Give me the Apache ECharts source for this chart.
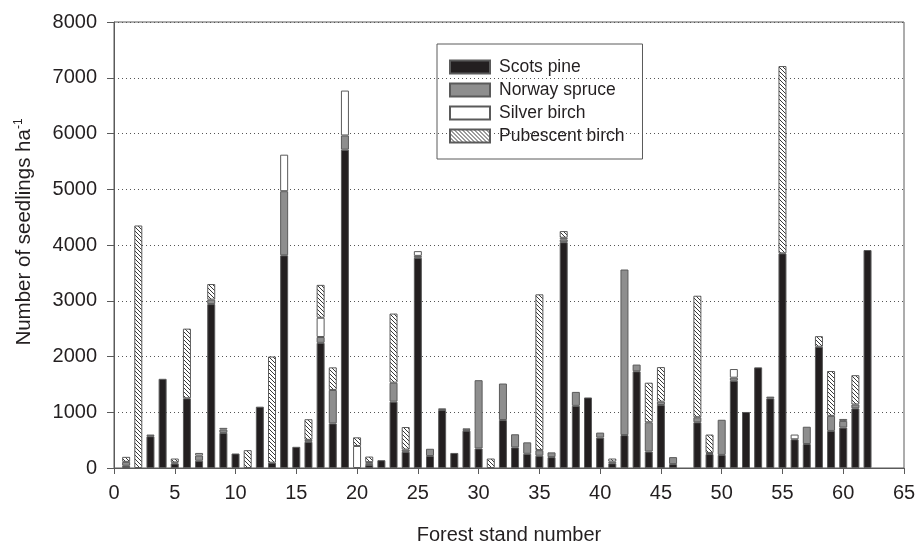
<!DOCTYPE html>
<html>
<head>
<meta charset="utf-8">
<script src="https://cdn.jsdelivr.net/npm/echarts@6/dist/echarts.min.js"></script>
<style>
  html, body { margin: 0; padding: 0; background: #fff; }
  #chart { width: 916px; height: 544px; }
</style>
</head>
<body>
<div id="chart"></div>
<script>
// forest stands 1..62, seedlings per ha, stacked by species
const stands = []
for (let i = 1; i <= 62; i++) stands.push(i)

const scotsPine = [40, 0, 570, 1600, 80, 1250, 130, 2940, 630, 260,
  0, 1100, 95, 3815, 380, 470, 2245, 800, 5710, 0,
  55, 140, 1190, 290, 3770, 215, 1040, 270, 670, 350,
  0, 860, 370, 255, 220, 195, 4050, 1115, 1265, 545,
  85, 590, 1735, 295, 1130, 70, 0, 820, 250, 235,
  1565, 1005, 1805, 1250, 3850, 515, 430, 2175, 665, 725,
  1070, 3910]
const norwaySpruce = [70, 0, 30, 0, 0, 0, 95, 80, 60, 0,
  0, 0, 0, 1150, 0, 35, 105, 600, 255, 0,
  30, 0, 340, 40, 35, 130, 30, 0, 0, 1225,
  0, 655, 235, 205, 100, 85, 50, 250, 0, 90,
  0, 2970, 120, 525, 60, 125, 0, 90, 20, 630,
  55, 0, 0, 30, 0, 0, 310, 0, 270, 120,
  70, 0]
const silverBirch = [0, 0, 0, 0, 20, 0, 45, 0, 30, 0,
  0, 0, 0, 655, 0, 0, 345, 0, 805, 395,
  20, 0, 0, 0, 85, 0, 0, 0, 15, 0,
  0, 0, 0, 0, 0, 0, 30, 0, 0, 0,
  30, 0, 0, 0, 0, 0, 0, 0, 0, 0,
  155, 0, 0, 0, 0, 85, 0, 0, 0, 0,
  0, 0]
const pubescentBirch = [90, 4350, 0, 0, 70, 1250, 0, 280, 0, 0,
  320, 0, 1905, 0, 0, 370, 590, 405, 0, 155,
  100, 0, 1240, 405, 0, 0, 0, 0, 25, 0,
  170, 0, 0, 0, 2795, 0, 120, 0, 0, 0,
  55, 0, 0, 710, 620, 0, 0, 2180, 330, 0,
  0, 0, 0, 0, 3360, 0, 0, 190, 805, 35,
  525, 0]

const yTicks = [0, 1000, 2000, 3000, 4000, 5000, 6000, 7000, 8000]

const FONT = '"Liberation Sans", Arial, Helvetica, sans-serif'
const INK = '#231f20'
const EDGE = '#5a5a5a'

// diagonal hatch tile for pubescent birch
function hatch() {
  const c = document.createElement('canvas')
  c.width = 4
  c.height = 4
  const ctx = c.getContext('2d')
  ctx.fillStyle = '#fff'
  ctx.fillRect(0, 0, 4, 4)
  ctx.strokeStyle = '#222'
  ctx.lineWidth = 0.9
  for (const k of [-4, 0, 4]) {
    ctx.beginPath()
    ctx.moveTo(k, 0)
    ctx.lineTo(k + 4, 4)
    ctx.stroke()
  }
  return c
}

// value first so echarts stacks it (x axis is a value axis -> stack by index)
function pairs(vals) {
  return stands.map((s, i) => [vals[i] > 0 ? vals[i] : '-', s])
}

function bar(name, vals, fill) {
  return {
    name: name,
    type: 'bar',
    stack: 'total',
    barWidth: 8,
    encode: { x: 1, y: 0 },
    data: pairs(vals),
    itemStyle: { color: fill, borderColor: EDGE, borderWidth: 1 }
  }
}

const chart = echarts.init(document.getElementById('chart'))
chart.setOption({
  animation: false,
  textStyle: { fontFamily: FONT, color: INK },
  grid: {
    left: 114, right: 12, top: 22, bottom: 76,
    outerBoundsMode: 'none',
    show: true, borderColor: EDGE, borderWidth: 1
  },
  legend: {
    orient: 'vertical',
    left: 437,
    top: 44,
    padding: [14, 18, 14, 12],
    itemWidth: 40,
    itemHeight: 13,
    itemGap: 5,
    borderColor: EDGE,
    borderWidth: 1,
    icon: 'rect',
    textStyle: { fontFamily: FONT, fontSize: 17.5, color: INK, lineHeight: 17, padding: [0, 0, 0, 4] }
  },
  xAxis: {
    type: 'value',
    min: 0,
    max: 65,
    interval: 5,
    name: 'Forest stand number',
    nameLocation: 'middle',
    nameGap: 57,
    nameTextStyle: { fontFamily: FONT, fontSize: 20, color: INK },
    axisLine: { lineStyle: { color: EDGE, width: 1 } },
    axisTick: { length: 6, lineStyle: { color: EDGE } },
    axisLabel: { fontFamily: FONT, fontSize: 20, color: INK, margin: 15 },
    splitLine: { show: false }
  },
  yAxis: {
    type: 'value',
    min: yTicks[0],
    max: yTicks[yTicks.length - 1],
    interval: 1000,
    name: '{a|Number of seedlings ha}{b|-1}',
    nameLocation: 'middle',
    nameGap: 79,
    nameTextStyle: {
      fontFamily: FONT, color: INK,
      padding: [0, 0, 0, 26],
      rich: {
        a: { fontFamily: FONT, fontSize: 20.5, color: INK, lineHeight: 22 },
        b: { fontFamily: FONT, fontSize: 12, color: INK, verticalAlign: 'top', lineHeight: 22 }
      }
    },
    axisLine: { show: true, lineStyle: { color: EDGE, width: 1 } },
    axisTick: { show: true, length: 7, lineStyle: { color: EDGE } },
    axisLabel: { fontFamily: FONT, fontSize: 20, color: INK, margin: 17, formatter: v => String(v) },
    splitLine: { show: true, lineStyle: { color: '#555', type: [1, 3], width: 1 } }
  },
  series: [
    bar('Scots pine', scotsPine, INK),
    bar('Norway spruce', norwaySpruce, '#8e8e8e'),
    bar('Silver birch', silverBirch, '#ffffff'),
    bar('Pubescent birch', pubescentBirch, { image: hatch(), repeat: 'repeat' })
  ]
})
</script>
</body>
</html>
